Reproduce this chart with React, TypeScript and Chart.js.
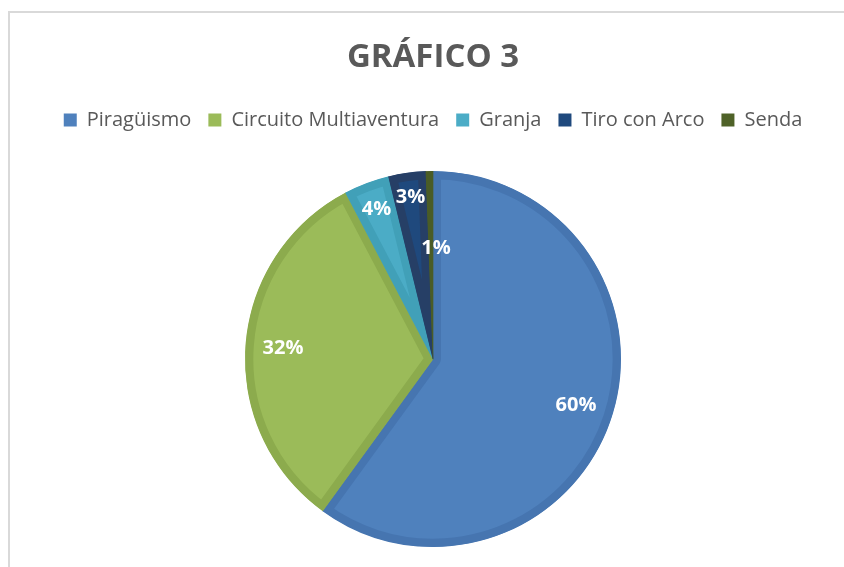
import React, { useEffect, useRef } from "react";
import { Chart, registerables } from "chart.js";

Chart.register(...registerables);

const categories = ["Piragüismo", "Circuito Multiaventura", "Granja", "Tiro con Arco", "Senda"];
const values = [60, 32.3, 3.9, 3.2, 0.6];
const fillColors = ["#4F81BD", "#9BBB59", "#4BACC6", "#1F497D", "#4F6228"];
const bandColors = ["#4675B0", "#8CAB4D", "#41A0B8", "#263F66", "#4A5C26"];
const labelRadius = [0.8, 0.8, 0.85, 0.87, 0.59];
const labelAngleShift = [0, 0, 0, 0, 2.6];

const FONT = "'Open Sans', 'DejaVu Sans', sans-serif";

const pctLabels = {
  id: "pctLabels",
  afterDatasetsDraw(chart: any) {
    const ctx = chart.ctx;
    const meta = chart.getDatasetMeta(0);
    const data = chart.data.datasets[0].data as number[];
    const total = data.reduce((a, b) => a + b, 0);
    ctx.save();
    ctx.fillStyle = "#FFFFFF";
    ctx.font = `bold 20px ${FONT}`;
    ctx.textAlign = "center";
    ctx.textBaseline = "middle";
    meta.data.forEach((arc: any, i: number) => {
      const p = arc.getProps(["x", "y", "startAngle", "endAngle", "outerRadius"], true);
      const mid = (p.startAngle + p.endAngle) / 2 + (labelAngleShift[i] * Math.PI) / 180;
      const r = p.outerRadius * labelRadius[i];
      const x = p.x + Math.cos(mid) * r;
      const y = p.y + Math.sin(mid) * r;
      ctx.fillText(Math.round((data[i] / total) * 100) + "%", x, y);
    });
    ctx.restore();
  },
};

const legendSpacing = {
  id: "legendSpacing",
  beforeInit(chart: any) {
    const legend = chart.legend;
    if (!legend) return;
    const origFit = legend.fit;
    legend.fit = function () {
      origFit.call(this);
      this.height += 31;
    };
  },
};

export default function App() {
  const ref = useRef<HTMLCanvasElement | null>(null);
  useEffect(() => {
    if (!ref.current) return;
    const chart = new Chart(ref.current, {
      type: "pie",
      data: {
        labels: categories,
        datasets: [
          {
            data: values,
            backgroundColor: fillColors,
            borderColor: bandColors,
            borderWidth: 8,
            borderAlign: "inner",
          } as any,
        ],
      },
      options: {
        responsive: false,
        animation: false,
        layout: { padding: { top: 0, bottom: 20, left: 22, right: 0 } },
        plugins: {
          tooltip: { enabled: false },
          title: {
            display: true,
            text: "GRÁFICO 3",
            color: "#595959",
            font: { family: FONT, size: 33, weight: "bold" },
            padding: { top: 37.4, bottom: 16 },
          },
          legend: {
            position: "top",
            labels: {
              color: "#595959",
              font: { family: FONT, size: 20 },
              boxWidth: 13,
              boxHeight: 13,
              padding: 17,
              generateLabels: () =>
                categories.map((c, i) => ({
                  text: c,
                  fillStyle: fillColors[i],
                  strokeStyle: fillColors[i],
                  lineWidth: 0,
                  fontColor: "#595959",
                  hidden: false,
                  index: i,
                })),
            },
          },
        },
      },
      plugins: [legendSpacing, pctLabels],
    });
    return () => chart.destroy();
  }, []);
  return (
    <>
      <div
        style={{
          position: "absolute",
          left: 8,
          top: 11,
          width: 836,
          height: 556,
          borderLeft: "2px solid #D9D9D9",
          borderTop: "2px solid #D9D9D9",
          boxSizing: "border-box",
        }}
      />
      <canvas
        ref={ref}
        width={844}
        height={567}
        style={{ position: "absolute", left: 0, top: 0, width: 844, height: 567, display: "block" }}
      />
    </>
  );
}
